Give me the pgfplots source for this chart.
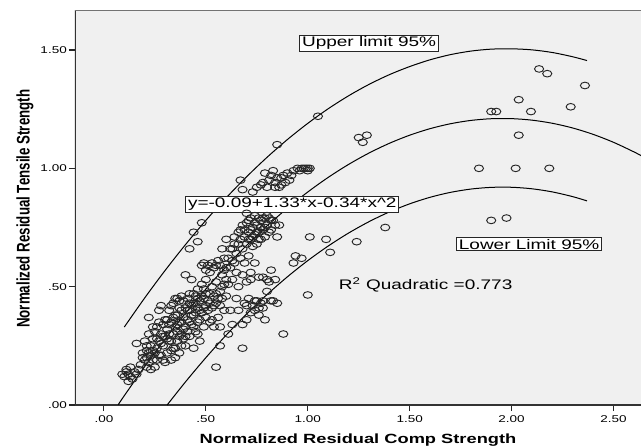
\documentclass[border=0pt]{standalone}
\usepackage{fontspec}
\setmainfont{Liberation Sans}
\usepackage{pgfplots}
\pgfplotsset{compat=1.18}
\definecolor{bgc}{RGB}{240,240,240}
\begin{document}
\begin{tikzpicture}
\begin{axis}[
  name=ax,
  scale only axis,
  width=424.5pt, height=296.25pt,
  xmin=-0.142, xmax=2.635,
  ymin=0, ymax=1.669,
  axis background/.style={fill=bgc},
  axis line style={draw=none},
  clip=true,
  xtick={0,0.5,1,1.5,2,2.5},
  xticklabels={.00,.50,1.00,1.50,2.00,2.50},
  ytick={0,0.5,1,1.5},
  yticklabels={.00,.50,1.00,1.50},
  tick align=outside,
  xtick pos=bottom, ytick pos=left,
  major tick length=4.5pt,
  tick style={black!85, line width=0.8pt},
  xticklabel style={font=\fontsize{7.4}{9}\selectfont, xscale=1.37, inner sep=0pt, anchor=north, yshift=-3.5pt},
  yticklabel style={font=\fontsize{7.4}{9}\selectfont, xscale=1.37, inner sep=0pt, anchor=east, xshift=-1pt},
  xlabel={Normalized Residual Comp Strength},
  ylabel={Normalized Residual Tensile Strength},
  xlabel style={font=\bfseries\fontsize{10}{12}\selectfont, xscale=1.37, at={(rel axis cs:0.5,0)}, anchor=north, inner sep=0pt, yshift=-21.5pt},
  every axis y label/.style={at={(rel axis cs:-0.0883,0.497)}, rotate=90, yscale=1.37, anchor=center, inner sep=0pt, font=\bfseries\fontsize{10}{12}\selectfont},
]
% frame lines
\draw[black!80, line width=1pt] (rel axis cs:0,0) -- (rel axis cs:1,0);
\draw[black!80, line width=1pt] (rel axis cs:0,0) -- (rel axis cs:0,1);
\draw[black!55, line width=0.8pt] (rel axis cs:0,1) -- (rel axis cs:1,1);

% quadratic fit
\addplot[black, line width=0.75pt, smooth, mark=none] coordinates {
(0.07,0.0014) (0.1,0.0396) (0.2,0.1624) (0.3,0.2784) (0.4,0.3876) (0.5,0.49)
(0.6,0.5856) (0.7,0.6744) (0.8,0.7564) (0.9,0.8316) (1.0,0.9) (1.1,0.9616)
(1.2,1.0164) (1.3,1.0644) (1.4,1.1056) (1.5,1.14) (1.6,1.1676) (1.7,1.1884)
(1.8,1.2024) (1.9,1.2096) (2.0,1.21) (2.1,1.2036) (2.2,1.1904) (2.3,1.1704)
(2.4,1.1436) (2.5,1.11) (2.6,1.0696) (2.635,1.0538)};
% upper limit
\addplot[black, line width=0.75pt, smooth, mark=none] coordinates {
(0.1,0.3296) (0.2,0.4524) (0.3,0.5684) (0.4,0.6776) (0.5,0.78) (0.6,0.8756)
(0.7,0.9644) (0.8,1.0464) (0.9,1.1216) (1.0,1.19) (1.1,1.2516) (1.2,1.3064)
(1.3,1.3544) (1.4,1.3956) (1.5,1.43) (1.6,1.4586) (1.7,1.4804) (1.8,1.4954)
(1.9,1.5036) (2.0,1.505) (2.1,1.5006) (2.2,1.4894) (2.3,1.4714) (2.37,1.4554)};
% lower limit
\addplot[black, line width=0.75pt, smooth, mark=none] coordinates {
(0.31,0.0) (0.4,0.0976) (0.5,0.2) (0.6,0.2956) (0.7,0.3844) (0.8,0.4664)
(0.9,0.5416) (1.0,0.61) (1.1,0.6716) (1.2,0.7264) (1.3,0.7744) (1.4,0.8156)
(1.5,0.85) (1.6,0.8776) (1.7,0.8984) (1.8,0.9124) (1.9,0.9196) (2.0,0.92)
(2.1,0.9136) (2.2,0.9004) (2.3,0.8804) (2.37,0.8624)};

% observations
\addplot[only marks, mark=o, mark size=2.5pt, mark options={xscale=1.37, black!85, line width=0.7pt}] table {
x y
0.09 0.13
0.10 0.12
0.11 0.15
0.12 0.10
0.12 0.13
0.13 0.12
0.14 0.11
0.15 0.14
0.16 0.13
0.17 0.15
0.11 0.14
0.13 0.16
0.16 0.26
0.18 0.17
0.19 0.20
0.20 0.19
0.21 0.16
0.22 0.22
0.20 0.27
0.22 0.37
0.21 0.20
0.22 0.18
0.23 0.21
0.23 0.25
0.24 0.19
0.24 0.28
0.25 0.22
0.25 0.31
0.26 0.24
0.26 0.19
0.26 0.33
0.27 0.27
0.27 0.40
0.28 0.42
0.28 0.30
0.28 0.21
0.29 0.25
0.29 0.34
0.30 0.29
0.30 0.18
0.30 0.36
0.22 0.30
0.24 0.33
0.21 0.25
0.25 0.16
0.27 0.35
0.29 0.19
0.23 0.15
0.26 0.28
0.28 0.26
0.31 0.32
0.31 0.22
0.32 0.27
0.32 0.40
0.33 0.35
0.33 0.19
0.34 0.30
0.34 0.24
0.34 0.43
0.35 0.33
0.35 0.20
0.35 0.38
0.36 0.27
0.36 0.45
0.36 0.31
0.37 0.22
0.37 0.41
0.37 0.35
0.38 0.25
0.38 0.46
0.38 0.30
0.39 0.37
0.39 0.28
0.39 0.44
0.40 0.33
0.40 0.55
0.40 0.41
0.40 0.25
0.32 0.34
0.33 0.23
0.36 0.38
0.38 0.40
0.31 0.28
0.34 0.37
0.37 0.29
0.39 0.32
0.35 0.45
0.33 0.42
0.41 0.45
0.41 0.36
0.42 0.29
0.42 0.47
0.42 0.40
0.43 0.53
0.42 0.66
0.43 0.34
0.44 0.43
0.44 0.24
0.44 0.38
0.44 0.73
0.45 0.46
0.45 0.31
0.46 0.41
0.46 0.49
0.46 0.35
0.46 0.69
0.47 0.44
0.47 0.27
0.48 0.77
0.48 0.51
0.48 0.39
0.48 0.59
0.49 0.45
0.49 0.33
0.49 0.60
0.50 0.42
0.50 0.53
0.50 0.37
0.50 0.47
0.41 0.31
0.43 0.42
0.45 0.39
0.47 0.36
0.49 0.49
0.44 0.47
0.46 0.30
0.42 0.35
0.51 0.59
0.51 0.44
0.52 0.56
0.52 0.35
0.52 0.47
0.53 0.60
0.53 0.41
0.53 0.36
0.54 0.46
0.54 0.33
0.54 0.58
0.55 0.16
0.55 0.59
0.55 0.43
0.55 0.52
0.56 0.61
0.56 0.37
0.57 0.25
0.57 0.48
0.57 0.59
0.57 0.33
0.58 0.66
0.58 0.45
0.58 0.55
0.59 0.51
0.59 0.62
0.59 0.40
0.60 0.58
0.60 0.70
0.60 0.46
0.61 0.30
0.61 0.51
0.62 0.58
0.62 0.40
0.63 0.66
0.63 0.53
0.64 0.60
0.64 0.71
0.65 0.56
0.65 0.45
0.66 0.68
0.66 0.50
0.67 0.74
0.67 0.62
0.68 0.24
0.68 0.66
0.67 0.95
0.68 0.91
0.68 0.55
0.68 0.34
0.69 0.71
0.69 0.60
0.69 0.43
0.70 0.77
0.70 0.68
0.70 0.52
0.70 0.42
0.71 0.73
0.71 0.63
0.71 0.78
0.71 0.45
0.72 0.70
0.72 0.79
0.72 0.39
0.72 0.56
0.73 0.75
0.73 0.67
0.73 0.42
0.73 0.90
0.74 0.72
0.74 0.80
0.74 0.40
0.74 0.60
0.75 0.68
0.75 0.76
0.75 0.44
0.75 0.92
0.76 0.73
0.76 0.79
0.76 0.38
0.76 0.54
0.77 0.70
0.77 0.78
0.77 0.43
0.77 0.93
0.78 0.74
0.78 0.94
0.78 0.41
0.78 0.54
0.79 0.79
0.79 0.98
0.79 0.71
0.79 0.36
0.80 0.76
0.80 0.92
0.80 0.48
0.81 0.79
0.81 0.95
0.81 0.52
0.82 0.97
0.82 0.57
0.82 0.74
0.83 0.99
0.83 0.44
0.83 0.78
0.84 0.94
0.84 0.92
0.84 0.53
0.85 1.10
0.85 0.71
0.85 0.96
0.85 0.43
0.86 0.92
0.86 0.76
0.87 0.96
0.87 0.93
0.88 0.30
0.88 0.97
0.89 0.94
0.90 0.98
0.91 0.95
0.92 0.97
0.93 0.99
0.94 0.63
0.93 0.60
0.97 0.62
0.95 1.00
0.96 0.99
0.97 1.00
0.98 1.00
0.99 1.00
1.00 1.00
1.00 0.99
1.01 1.00
1.00 0.465
1.01 0.71
1.05 1.22
1.09 0.70
1.11 0.645
1.24 0.69
1.25 1.13
1.27 1.11
1.29 1.14
1.38 0.75
1.84 1.00
1.90 0.78
1.90 1.24
1.925 1.24
1.975 0.79
2.02 1.00
2.035 1.29
2.035 1.14
2.095 1.24
2.135 1.42
2.175 1.40
2.185 1.00
2.29 1.26
2.36 1.35
0.19 0.22
0.21 0.23
0.24 0.23
0.27 0.21
0.29 0.29
0.31 0.36
0.32 0.30
0.33 0.27
0.35 0.24
0.36 0.34
0.37 0.44
0.38 0.35
0.40 0.29
0.41 0.40
0.42 0.43
0.43 0.38
0.44 0.33
0.45 0.43
0.46 0.45
0.47 0.40
0.48 0.46
0.49 0.41
0.50 0.57
0.51 0.40
0.52 0.43
0.53 0.50
0.54 0.42
0.55 0.47
0.56 0.45
0.57 0.42
0.58 0.50
0.59 0.57
0.60 0.53
0.61 0.62
0.62 0.66
0.63 0.61
0.64 0.68
0.65 0.64
0.66 0.73
0.67 0.70
0.68 0.76
0.69 0.74
0.70 0.81
0.71 0.70
0.72 0.74
0.73 0.71
0.74 0.77
0.75 0.73
0.76 0.70
0.77 0.75
0.78 0.79
0.79 0.75
0.80 0.80
0.81 0.73
0.82 0.78
0.84 0.76
0.72 0.53
0.74 0.44
0.76 0.41
0.78 0.44
0.80 0.53
0.82 0.44
0.70 0.36
0.63 0.34
0.66 0.40
};

% annotations
\node[draw=black!85, fill=white, line width=0.6pt, inner sep=1.2pt, xscale=1.37, font=\fontsize{10.4}{12}\selectfont] at (axis cs:1.301,1.529) {Upper limit 95\%};
\node[draw=black!85, fill=white, line width=0.6pt, inner sep=1.2pt, xscale=1.37, font=\fontsize{10.4}{12}\selectfont] at (axis cs:0.924,0.849) {y=-0.09+1.33*x-0.34*x\^{}2};
\node[draw=black!85, fill=white, line width=0.6pt, inner sep=1.2pt, xscale=1.37, font=\fontsize{10.4}{12}\selectfont] at (axis cs:2.086,0.680) {Lower Limit 95\%};
\node[inner sep=0pt, xscale=1.37, font=\fontsize{10.4}{12}\selectfont] at (axis cs:1.578,0.507) {R\textsuperscript{2} Quadratic =0.773};
\end{axis}
\pgfresetboundingbox
\path[use as bounding box] ([shift={(-56.25pt,-31.5pt)}]ax.south west) rectangle ([shift={(0pt,7.5pt)}]ax.north east);
\end{tikzpicture}
\end{document}
